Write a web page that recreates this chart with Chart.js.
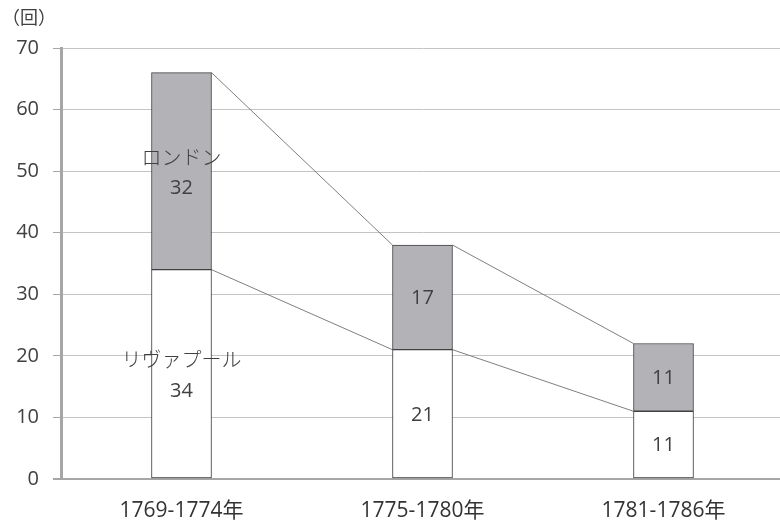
<!DOCTYPE html>
<html lang="ja">
<head>
<meta charset="utf-8">
<script src="https://cdn.jsdelivr.net/npm/chart.js@4/dist/chart.umd.min.js"></script>
<style>
  html, body { margin: 0; padding: 0; background: #fff; overflow: hidden; }
  #wrap { position: relative; width: 784px; height: 526px; }
  #unit { position: absolute; left: 2px; top: 3px; font: 18px "Noto Sans CJK JP", sans-serif; color: #404040; }
</style>
</head>
<body>
<div id="wrap">
  <div id="unit">（回）</div>
  <canvas id="c" width="784" height="526"></canvas>
</div>
<script>
// Periods on the x axis
const periods = ['1769-1774年', '1775-1780年', '1781-1786年'];
// Counts per port, stacked bottom to top
const liverpool = [34, 21, 11];
const london = [32, 17, 11];
// Series names shown inside the first column
const seriesNames = ['リヴァプール', 'ロンドン'];
// Y axis range
const yMin = 0, yMax = 70, yStep = 10;

const textColor = '#404040';
const labelFont = '"Open Sans", "Noto Sans CJK JP", sans-serif';

// Connector lines between the tops of each stacked segment
const seriesLines = {
  id: 'seriesLines',
  beforeDatasetsDraw(chart) {
    const { ctx } = chart;
    ctx.save();
    ctx.strokeStyle = '#7f7f7f';
    ctx.lineWidth = 1;
    chart.data.datasets.forEach((ds, di) => {
      const bars = chart.getDatasetMeta(di).data;
      for (let i = 0; i < bars.length - 1; i++) {
        const a = bars[i], b = bars[i + 1];
        ctx.beginPath();
        ctx.moveTo(a.x + a.width / 2, a.y);
        ctx.lineTo(b.x - b.width / 2, b.y);
        ctx.stroke();
      }
    });
    ctx.restore();
  }
};

// Values (and series names on the first column) centred in each segment
const segmentLabels = {
  id: 'segmentLabels',
  afterDatasetsDraw(chart) {
    const { ctx } = chart;
    ctx.save();
    ctx.fillStyle = textColor;
    ctx.textAlign = 'center';
    ctx.textBaseline = 'middle';
    chart.data.datasets.forEach((ds, di) => {
      const bars = chart.getDatasetMeta(di).data;
      bars.forEach((bar, i) => {
        const cy = (bar.y + bar.base) / 2;
        if (i === 0) {
          ctx.font = '300 20px "Noto Sans CJK JP", sans-serif';
          ctx.fillText(seriesNames[di], bar.x, cy - 14);
          ctx.font = '20px ' + labelFont;
          ctx.fillText(String(ds.data[i]), bar.x, cy + 17);
        } else {
          ctx.font = '20px ' + labelFont;
          ctx.fillText(String(ds.data[i]), bar.x, cy + 1);
        }
      });
    });
    ctx.restore();
  }
};

new Chart(document.getElementById('c'), {
  type: 'bar',
  data: {
    labels: periods,
    datasets: [
      { label: seriesNames[0], data: liverpool, backgroundColor: '#ffffff', borderColor: '#404040', borderWidth: 1, borderSkipped: false },
      { label: seriesNames[1], data: london, backgroundColor: '#b3b3b7', borderColor: '#404040', borderWidth: 1, borderSkipped: false }
    ]
  },
  options: {
    responsive: false,
    animation: false,
    events: [],
    layout: { padding: { top: 48, left: 0, right: 0, bottom: 0 } },
    plugins: { legend: { display: false }, tooltip: { enabled: false } },
    datasets: { bar: { barThickness: 60 } },
    scales: {
      x: {
        stacked: true,
        grid: { display: false, drawTicks: false },
        border: { color: '#a6a6a6', width: 2 },
        ticks: { color: '#333333', font: { family: labelFont, size: 21 }, padding: 19 },
        afterFit(s) { s.height = 47; }
      },
      y: {
        stacked: true,
        min: yMin, max: yMax,
        grid: {
          color: c => c.tick && c.tick.value === 0 ? '#a6a6a6' : '#c4c4c4',
          lineWidth: c => c.tick && c.tick.value === 0 ? 2 : 1,
          tickLength: 8,
          tickColor: '#a6a6a6'
        },
        border: { color: '#a6a6a6', width: 3 },
        ticks: { stepSize: yStep, color: textColor, font: { family: labelFont, size: 20 }, padding: 14 },
        afterFit(s) { s.width = 61; }
      }
    }
  },
  plugins: [seriesLines, segmentLabels]
});
</script>
</body>
</html>
